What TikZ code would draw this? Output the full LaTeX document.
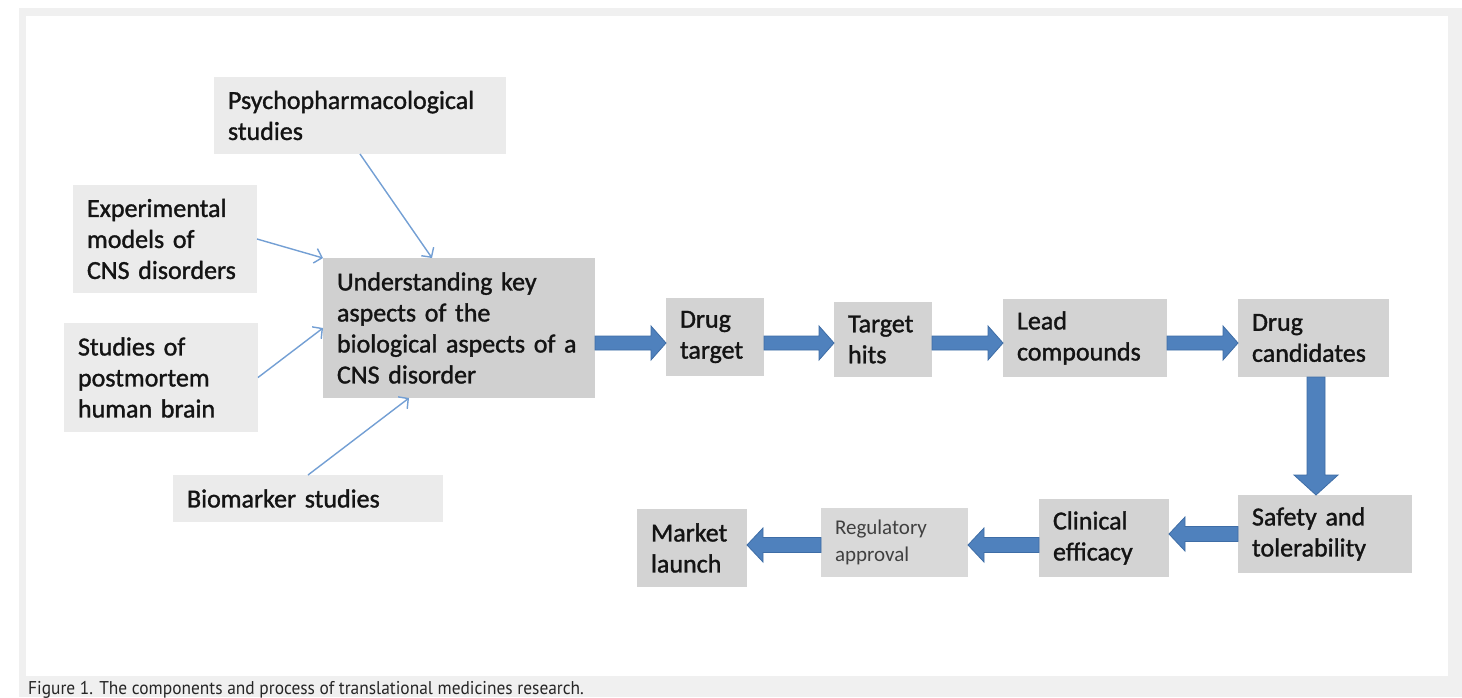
\documentclass[tikz,border=0pt]{standalone}
\usepackage{fontspec}
\setmainfont{Carlito}
\newfontfamily\heavyfont[FakeBold=1.3]{Carlito}
\newfontfamily\capfont[FakeStretch=0.94]{PT Sans}
\usetikzlibrary{calc,arrows.meta}
\definecolor{framegrey}{HTML}{F0F0F0}
\definecolor{inbox}{HTML}{EBEBEB}
\definecolor{procbox}{HTML}{D3D3D3}
\definecolor{keybox}{HTML}{D0D0D0}
\definecolor{regbox}{HTML}{D9D9D9}
\definecolor{thinblue}{HTML}{739FD4}
\definecolor{blockfill}{HTML}{4F81BD}
\definecolor{blockedge}{HTML}{3E6DA6}
\definecolor{txt}{HTML}{141414}
\definecolor{regtxt}{HTML}{404040}

\newcommand\arrowRight[3]{\path[blockarrow] let \p1=(#1.east |- 0,#3), \p2=(#2.west |- 0,#3) in
  (\x1,\y1+7pt) -- (\x2-15pt,\y1+7pt) -- (\x2-15pt,\y1+17pt) -- (\x2,\y1) -- (\x2-15pt,\y1-17pt) -- (\x2-15pt,\y1-7pt) -- (\x1,\y1-7pt) -- cycle;}
\newcommand\arrowLeft[3]{\path[blockarrow] let \p1=(#1.west |- 0,#3), \p2=(#2.east |- 0,#3) in
  (\x1,\y1+7.5pt) -- (\x2+16pt,\y1+7.5pt) -- (\x2+16pt,\y1+17pt) -- (\x2,\y1) -- (\x2+16pt,\y1-17pt) -- (\x2+16pt,\y1-7.5pt) -- (\x1,\y1-7.5pt) -- cycle;}
\newcommand\arrowDown[3]{\path[blockarrow] let \p1=(#1.south -| #3,0), \p2=(#2.north -| #3,0) in
  (\x1-9pt,\y1) -- (\x1-9pt,\y2+20pt) -- (\x1-22pt,\y2+20pt) -- (\x1,\y2) -- (\x1+22pt,\y2+20pt) -- (\x1+9pt,\y2+20pt) -- (\x1+9pt,\y1) -- cycle;}

\tikzset{
  box/.style={anchor=north west, align=left, inner xsep=14pt, inner ysep=2pt, outer sep=0pt,
    font=\heavyfont\fontsize{26}{31}\selectfont, text=txt},
  inputbox/.style={box, fill=inbox},
  procstep/.style={box, fill=procbox},
  thinarrow/.style={draw=thinblue, line width=1.4pt, -{Straight Barb[length=7pt,width=15pt]}},
  blockarrow/.style={fill=blockfill, draw=blockedge, line width=0.8pt, line join=miter},
}

\begin{document}
\begin{tikzpicture}[x=1pt, y=-1pt]
\useasboundingbox (0,0) rectangle (1462,697);
\clip (0,0) rectangle (1462,697);
\fill[white] (0,0) rectangle (1462,697);
\fill[framegrey] (19,8) rectangle (1462,697);
\fill[white] (26,16) rectangle (1448,676);

% input boxes
\node[inputbox, minimum width=292pt, text width=264pt, minimum height=77pt] (psy) at (214,77)
  {Psychopharmacological\\studies};
\node[inputbox, minimum width=184pt, text width=156pt, minimum height=108pt] (exp) at (73,185)
  {Experimental\\models of\\CNS disorders};
\node[inputbox, minimum width=194pt, text width=166pt, minimum height=109pt] (post) at (64,323)
  {Studies of\\postmortem\\human brain};
\node[inputbox, minimum width=270pt, text width=242pt, minimum height=47pt] (bio) at (173,475)
  {Biomarker studies};

% central box
\node[box, fill=keybox, minimum width=272pt, text width=244pt, minimum height=140pt] (und) at (323,258)
  {Understanding key\\aspects of the\\biological aspects of a\\CNS disorder};

% process steps
\node[procstep, minimum width=98pt, text width=70pt, minimum height=78pt] (dt) at (666,298) {Drug\\target};
\node[procstep, minimum width=97pt, text width=70pt, minimum height=75pt] (th) at (834,302) {Target\\hits};
\node[procstep, minimum width=164pt, text width=136pt, minimum height=78pt] (lc) at (1003,299) {Lead\\compounds};
\node[procstep, minimum width=151pt, text width=123pt, minimum height=78pt] (dc) at (1238,299) {Drug\\candidates};
\node[procstep, minimum width=174pt, text width=146pt, minimum height=78pt] (saf) at (1238,495) {Safety and\\tolerability};
\node[procstep, minimum width=130pt, text width=102pt, minimum height=78pt] (ce) at (1039,499) {Clinical\\efficacy};
\node[box, fill=regbox, text=regtxt, font=\rmfamily\fontsize{21}{27}\selectfont, minimum width=147pt, text width=119pt, minimum height=69pt] (ra) at (821,508) {Regulatory\\approval};
\node[procstep, minimum width=110pt, text width=82pt, minimum height=78pt] (ml) at (637,509) {Market\\launch};

% thin arrows
\draw[thinarrow] (psy.south) -- ($(und.north west)+(109,0)$);
\draw[thinarrow] (exp.east) -- (und.north west);
\draw[thinarrow] (post.east) -- (und.west);
\draw[thinarrow] (bio.north) -- ($(und.south west)+(86,0)$);

% block arrows
\arrowRight{und}{dt}{343}
\arrowRight{dt}{th}{343}
\arrowRight{th}{lc}{343}
\arrowRight{lc}{dc}{343}
\arrowDown{dc}{saf}{1316}
\arrowLeft{saf}{ce}{534}
\arrowLeft{ce}{ra}{545}
\arrowLeft{ra}{ml}{545}

% caption
\node[anchor=base west, font=\capfont\fontsize{18.5}{20}\selectfont, text=black!85, inner sep=0pt] (cap) at (28,694)
  {Figure 1. The components and process of translational medicines research.};
\end{tikzpicture}
\end{document}
